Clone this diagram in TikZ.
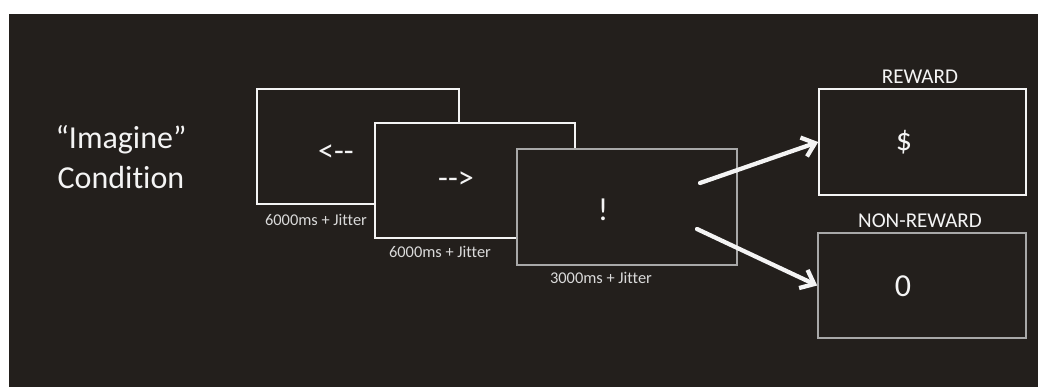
\documentclass[tikz,border=0pt]{standalone}
\usepackage{fontspec}
\setmainfont{Carlito}[Ligatures=NoCommon]
\usetikzlibrary{arrows.meta}
\definecolor{slate}{HTML}{231F1C}
\definecolor{chalk}{HTML}{F4F4F4}
\definecolor{ash}{HTML}{A8A8A8}
\definecolor{mist}{HTML}{DADADA}

\begin{document}
\begin{tikzpicture}[x=0.75pt, y=-0.75pt,
  screen/.style={draw=chalk, fill=slate, line width=1.2pt, inner sep=0pt},
  glyph/.style={text=chalk, font=\fontsize{24}{28}\selectfont},
  timing/.style={text=mist, anchor=base, font=\fontsize{12.3}{14}\selectfont},
  outcome/.style={text=chalk, anchor=base, font=\fontsize{15.8}{18}\selectfont},
  pointer/.style={chalk, line width=3.2pt, line cap=round, -{Straight Barb[length=9pt, width=15pt]}}]
  \useasboundingbox (0,0) rectangle (1038,387);
  \fill[white] (0,0) rectangle (1038,387);
  \fill[slate] (9,14) rectangle (1038,387);
  % condition label
  \node[glyph, align=center, font=\fontsize{24}{30}\selectfont] (cond) at (121,157)
    {``Imagine''\\ Condition};
  % cue screens
  \node[screen, minimum width=151.5pt, minimum height=86.25pt] (cueL) at (358,146.5) {};
  \node[glyph] (arrL) at (336,153) {<-{}-};
  \node[timing] (tL) at (316,225) {6000ms + Jitter};
  \node[screen, minimum width=150pt, minimum height=86.25pt] (cueR) at (475,180.5) {};
  \node[glyph] (arrR) at (456,180) {-{}->};
  \node[timing] (tR) at (440,257) {6000ms + Jitter};
  \node[screen, draw=ash, minimum width=165pt, minimum height=87pt] (go) at (627,207) {};
  \node[glyph] (bang) at (603,210) {!};
  \node[timing] (tG) at (601,283) {3000ms + Jitter};
  % outcomes
  \node[screen, minimum width=155.25pt, minimum height=79.5pt] (reward) at (922.5,142) {};
  \node[glyph] (dollar) at (904,142.5) {\$};
  \node[outcome] (rlab) at (920,83.3) {REWARD};
  \node[screen, draw=ash, minimum width=156pt, minimum height=78.75pt] (noreward) at (922,285.5) {};
  \node[glyph] (zero) at (903,286) {0};
  \node[outcome] (nlab) at (920,227) {NON-REWARD};
  \coordinate (upstart) at (700,183);
  \coordinate (downstart) at (697,229);
  \draw[pointer] (upstart) -- (reward.west);
  \draw[pointer] (downstart) -- (noreward.west);
\end{tikzpicture}
\end{document}
